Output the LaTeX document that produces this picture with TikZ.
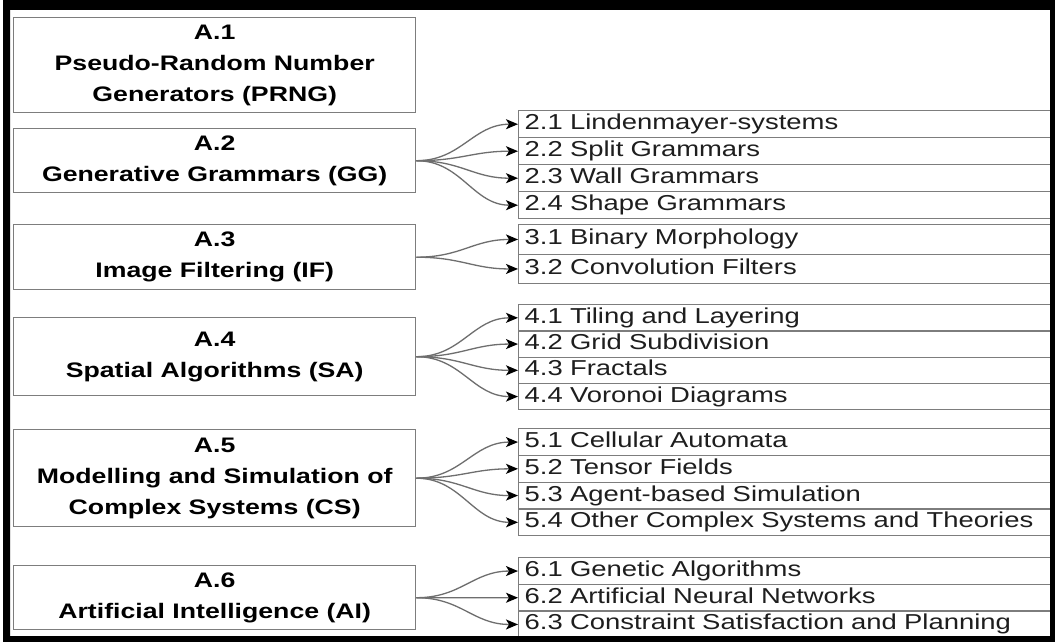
\documentclass[tikz,border=0pt]{standalone}
\usepackage{fontspec}
\setmainfont[FakeStretch=1.27]{Liberation Sans}
\usetikzlibrary{arrows.meta}
\definecolor{boxgray}{RGB}{125,125,125}
\definecolor{linegray}{RGB}{110,110,110}
\definecolor{txtdark}{RGB}{30,30,30}
\begin{document}
\begin{tikzpicture}[x=1pt,y=-1pt,
  leftbox/.style={draw=boxgray, line width=1.4pt, minimum width=402pt, align=center,
    font=\fontsize{21}{31}\selectfont\bfseries, anchor=north west, inner sep=0pt, text=black},
  rowbox/.style={draw=boxgray, line width=1.4pt, anchor=north west, text width=522pt,
    inner xsep=6pt, inner ysep=0pt, align=left, font=\fontsize{21.6}{25}\selectfont,
    text height=15.5pt, text depth=4.5pt, text=txtdark},
  conn/.style={draw=linegray, line width=1.3pt,
    -{Stealth[length=12pt,width=10pt,inset=3pt,color=black]}}
]
\useasboundingbox (0,0) rectangle (1055,642);
\fill[white] (0,0) rectangle (1055,642);

% left boxes
\node[leftbox, minimum height=95pt] (a1) at (13,17) {A.1\\Pseudo-Random Number\\Generators (PRNG)};
\node[leftbox, minimum height=64pt] (a2) at (13,128) {A.2\\Generative Grammars (GG)};
\node[leftbox, minimum height=65pt] (a3) at (13,224) {A.3\\Image Filtering (IF)};
\node[leftbox, minimum height=78pt] (a4) at (13,317) {A.4\\Spatial Algorithms (SA)};
\node[leftbox, minimum height=97pt] (a5) at (13,429) {A.5\\Modelling and Simulation of\\Complex Systems (CS)};
\node[leftbox, minimum height=64pt] (a6) at (13,565) {A.6\\Artificial Intelligence (AI)};

% group 2
\node[rowbox, minimum height=27pt] (r21) at (518,110) {2.1 Lindenmayer-systems};
\node[rowbox, minimum height=27pt] (r22) at (518,137) {2.2 Split Grammars};
\node[rowbox, minimum height=27pt] (r23) at (518,164) {2.3 Wall Grammars};
\node[rowbox, minimum height=27pt] (r24) at (518,191) {2.4 Shape Grammars};
% group 3
\node[rowbox, minimum height=29.5pt] (r31) at (518,224) {3.1 Binary Morphology};
\node[rowbox, minimum height=29.5pt] (r32) at (518,253.5) {3.2 Convolution Filters};
% group 4
\node[rowbox, minimum height=26.25pt] (r41) at (518,304) {4.1 Tiling and Layering};
\node[rowbox, minimum height=26.25pt] (r42) at (518,330.25) {4.2 Grid Subdivision};
\node[rowbox, minimum height=26.25pt] (r43) at (518,356.5) {4.3 Fractals};
\node[rowbox, minimum height=26.25pt] (r44) at (518,382.75) {4.4 Voronoi Diagrams};
% group 5
\node[rowbox, minimum height=26.75pt] (r51) at (518,428) {5.1 Cellular Automata};
\node[rowbox, minimum height=26.75pt] (r52) at (518,454.75) {5.2 Tensor Fields};
\node[rowbox, minimum height=26.75pt] (r53) at (518,481.5) {5.3 Agent-based Simulation};
\node[rowbox, minimum height=26.75pt] (r54) at (518,508.25) {5.4 Other Complex Systems and Theories};
% group 6
\node[rowbox, minimum height=26.7pt] (r61) at (518,557) {6.1 Genetic Algorithms};
\node[rowbox, minimum height=26.7pt] (r62) at (518,583.7) {6.2 Artificial Neural Networks};
\node[rowbox, minimum height=26.7pt] (r63) at (518,610.4) {6.3 Constraint Satisfaction and Planning};

% connectors
\foreach \s/\t in {a2/r21,a2/r22,a2/r23,a2/r24,a3/r31,a3/r32,a4/r41,a4/r42,a4/r43,a4/r44,
                   a5/r51,a5/r52,a5/r53,a5/r54,a6/r61,a6/r62,a6/r63}
  \draw[conn] (\s.east) .. controls +(45,0) and +(-45,0) .. (\t.west);

% frame
\fill[black, even odd rule] (3,0) rectangle (1055,642) (10,10) rectangle (1050,636);
\end{tikzpicture}
\end{document}
